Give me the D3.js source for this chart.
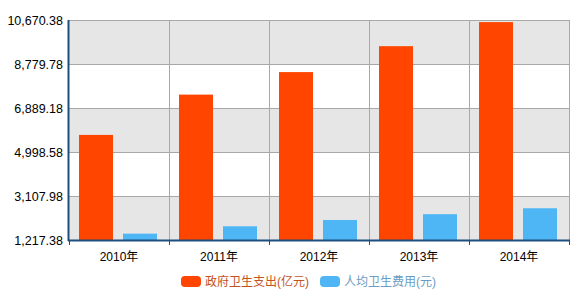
<!DOCTYPE html>
<html>
<head>
<meta charset="utf-8">
<script src="https://cdn.jsdelivr.net/npm/d3@7"></script>
<style>
	body { margin: 0; background: #fff; }
	text { font-family: "Liberation Sans", Arial, "Noto Sans CJK SC", sans-serif; font-size: 12px; }
</style>
</head>
<body>
<svg id="chart" width="579" height="304"></svg>
<script>
	var years = ['2010年', '2011年', '2012年', '2013年', '2014年'];
	var govSpend = [5732.49, 7464.18, 8431.98, 9545.81, 10579.23];      // 政府卫生支出(亿元)
	var perCapita = [1490.06, 1806.95, 2076.67, 2327.37, 2581.66];     // 人均卫生费用(元)
	var yTicks = [1217.38, 3107.98, 4998.58, 6889.18, 8779.78, 10670.38];
	var seriesNames = ['政府卫生支出(亿元)', '人均卫生费用(元)'];
	var seriesColors = ['#ff4500', '#4fb6f5'];
	var legendTextColors = ['#c4521e', '#6a9cc4'];

	var svg = d3.select('#chart');
	var margin = {top: 20, left: 69, right: 10, bottom: 64};
	var w = 579 - margin.left - margin.right;
	var h = 304 - margin.top - margin.bottom;
	var g = svg.append('g').attr('transform', 'translate(' + margin.left + ',' + margin.top + ')');

	var x = d3.scaleBand().domain(years).range([0, w]);
	var y = d3.scaleLinear().domain([yTicks[0], yTicks[yTicks.length - 1]]).range([h, 0]);

	//alternating bands between grid lines
	var bands = d3.pairs(yTicks);
	g.selectAll('rect.band').data(bands).enter().append('rect')
		.attr('x', 0)
		.attr('width', w)
		.attr('y', function (d) { return y(d[1]); })
		.attr('height', function (d) { return y(d[0]) - y(d[1]); })
		.attr('fill', function (d, i) { return i % 2 === 0 ? '#e6e6e6' : '#ffffff'; });

	//grid lines
	g.selectAll('line.hgrid').data(yTicks).enter().append('line')
		.attr('x1', 0).attr('x2', w)
		.attr('y1', function (d) { return Math.round(y(d)) + 0.5; })
		.attr('y2', function (d) { return Math.round(y(d)) + 0.5; })
		.attr('stroke', '#a8a8a8');
	g.selectAll('line.vgrid').data(years.slice(1).concat(['end'])).enter().append('line')
		.attr('x1', function (d) { return d === 'end' ? w + 0.5 : x(d) + 0.5; })
		.attr('x2', function (d) { return d === 'end' ? w + 0.5 : x(d) + 0.5; })
		.attr('y1', 0).attr('y2', h)
		.attr('stroke', '#a8a8a8');

	//bars
	var barW = 34;
	var offsets = [10, 54];
	[govSpend, perCapita].forEach(function (vals, s)
	{
		g.selectAll('rect.s' + s).data(vals).enter().append('rect')
			.attr('x', function (d, i) { return x(years[i]) + offsets[s]; })
			.attr('width', barW)
			.attr('y', function (d) { return y(d); })
			.attr('height', function (d) { return h - y(d); })
			.attr('fill', seriesColors[s]);
	});

	//y axis
	var yAxis = d3.axisLeft(y).tickValues(yTicks).tickSize(0).tickPadding(6)
		.tickFormat(d3.format(',.2f'));
	var yG = g.append('g').call(yAxis);
	yG.select('.domain').remove();
	yG.selectAll('text').attr('fill', '#000').style('font-size', '12.5px');
	g.append('line').attr('x1', -0.5).attr('x2', -0.5).attr('y1', 0).attr('y2', h + 1)
		.attr('stroke', '#1d4f7f').attr('stroke-width', 2);

	//x axis
	var xAxis = d3.axisBottom(x).tickSize(0).tickPadding(12);
	var xG = g.append('g').attr('transform', 'translate(0,' + h + ')').call(xAxis);
	xG.select('.domain').remove();
	xG.selectAll('text').attr('fill', '#000');
	g.append('line').attr('x1', -1).attr('x2', w + 1).attr('y1', h + 0.5).attr('y2', h + 0.5)
		.attr('stroke', '#1d4f7f').attr('stroke-width', 2);
	var tickPos = years.map(function (d) { return x(d); }).concat([w]);
	g.selectAll('line.xtick').data(tickPos).enter().append('line')
		.attr('x1', function (d) { return d + 0.5; }).attr('x2', function (d) { return d + 0.5; })
		.attr('y1', h).attr('y2', h + 5)
		.attr('stroke', '#1d4f7f').attr('stroke-width', 1);

	//legend
	var legend = svg.append('g').attr('transform', 'translate(181,276)');
	var legendX = [0, 139];
	seriesNames.forEach(function (name, i)
	{
		var item = legend.append('g').attr('transform', 'translate(' + legendX[i] + ',0)');
		item.append('rect').attr('width', 20).attr('height', 11).attr('rx', 4)
			.attr('fill', seriesColors[i]);
		item.append('text').attr('x', 24).attr('y', 10).text(name)
			.attr('fill', legendTextColors[i]).style('font-size', '12px');
	});
</script>
</body>
</html>
